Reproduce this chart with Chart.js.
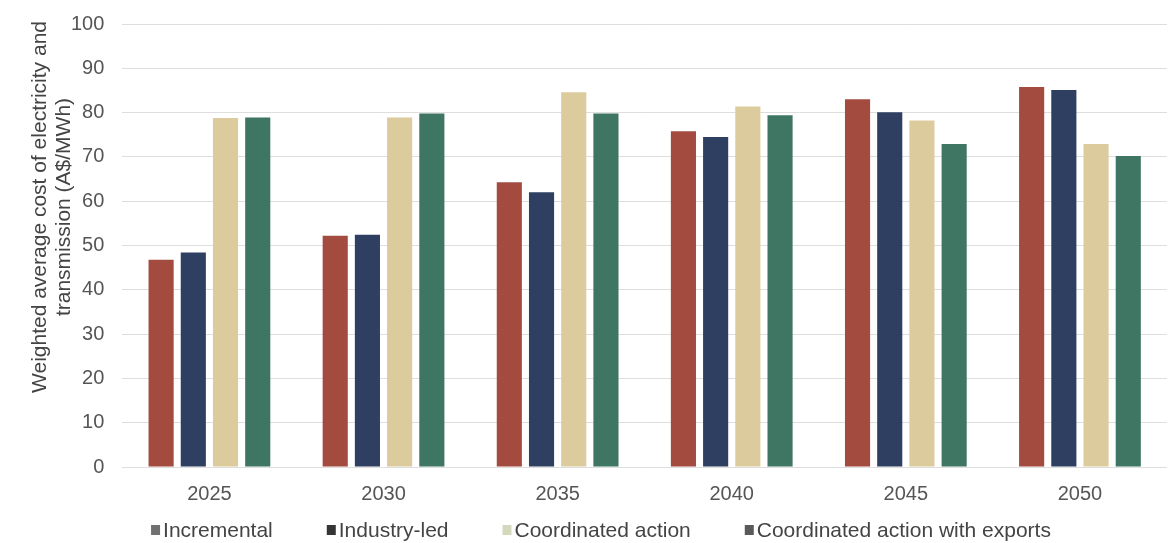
<!DOCTYPE html>
<html>
<head>
<meta charset="utf-8">
<script src="https://cdn.jsdelivr.net/npm/chart.js@4"></script>
<style>
html,body{margin:0;padding:0;background:#fff;}
#wrap{width:1174px;height:543px;position:relative;}
</style>
</head>
<body>
<div id="wrap"><canvas id="c" width="1174" height="543"></canvas></div>
<script>
const categories = ["2025","2030","2035","2040","2045","2050"];
const seriesNames = ["Incremental","Industry-led","Coordinated action","Coordinated action with exports"];
const incremental = [46.8, 52.2, 64.3, 75.8, 83.0, 85.8];
const industryLed = [48.4, 52.4, 62.0, 74.5, 80.1, 85.1];
const coordinated = [78.8, 78.9, 84.6, 81.4, 78.2, 72.9];
const coordinatedExports = [78.9, 79.8, 79.8, 79.4, 72.9, 70.2];
const yTicks = [0,10,20,30,40,50,60,70,80,90,100];
const yTitleLines = ['Weighted average cost of electricity and','transmission (A$/MWh)'];

const FONT = 'Liberation Sans, Arial, sans-serif';
const barColors = ["#a44b40","#2e3f62","#dccb9d","#3f7563"];
const legendColors = ["#707070","#353535","#d4d8bc","#5a5a5a"];
const values = [incremental, industryLed, coordinated, coordinatedExports];

const datasets = seriesNames.map((n,i)=>({
  label:n, data:values[i], backgroundColor:barColors[i],
  barPercentage:0.78, categoryPercentage:0.74
}));

const extras = {
  id:'extras',
  afterDraw(chart){
    const ctx = chart.ctx;
    ctx.save();
    // y axis title
    ctx.fillStyle = '#444';
    ctx.font = '21px ' + FONT;
    ctx.textAlign = 'center';
    ctx.textBaseline = 'middle';
    const cy = 207;
    const xs = [40, 64];
    yTitleLines.forEach((t,i)=>{
      ctx.save();
      ctx.translate(xs[i], cy);
      ctx.rotate(-Math.PI/2);
      ctx.fillText(t, 0, 0);
      ctx.restore();
    });
    // legend
    ctx.font = '21px ' + FONT;
    ctx.textAlign = 'left';
    const box = 9, boxGap = 3, gap = 54;
    const widths = seriesNames.map(n=>box + boxGap + ctx.measureText(n).width);
    const total = widths.reduce((a,b)=>a+b,0) + gap*(seriesNames.length-1);
    let x = 601 - total/2;
    const y = 530;
    seriesNames.forEach((n,i)=>{
      ctx.fillStyle = legendColors[i];
      ctx.fillRect(x, y - 5, box, 10);
      ctx.fillStyle = '#444';
      ctx.fillText(n, x + box + boxGap, y + 1);
      x += widths[i] + gap;
    });
    ctx.restore();
  }
};

new Chart(document.getElementById('c'),{
  type:'bar',
  data:{labels:categories, datasets},
  plugins:[extras],
  options:{
    responsive:false, animation:false,
    devicePixelRatio:1,
    layout:{padding:{top:24,right:7,left:53,bottom:30}},
    plugins:{ legend:{display:false}, tooltip:{enabled:false} },
    scales:{
      x:{
        grid:{display:false},
        border:{display:false},
        ticks:{font:{family:FONT, size:20}, color:'#555', padding:7}
      },
      y:{
        min:0, max:100,
        afterBuildTicks:(ax)=>{ax.ticks = yTicks.map(v=>({value:v}));},
        afterFit:(ax)=>{ax.paddingTop = 0; ax.paddingBottom = 0;},
        grid:{color:'#dedede', drawTicks:false, lineWidth:1},
        border:{display:false},
        ticks:{font:{family:FONT, size:20}, color:'#555', padding:18}
      }
    }
  }
});
</script>
</body>
</html>
